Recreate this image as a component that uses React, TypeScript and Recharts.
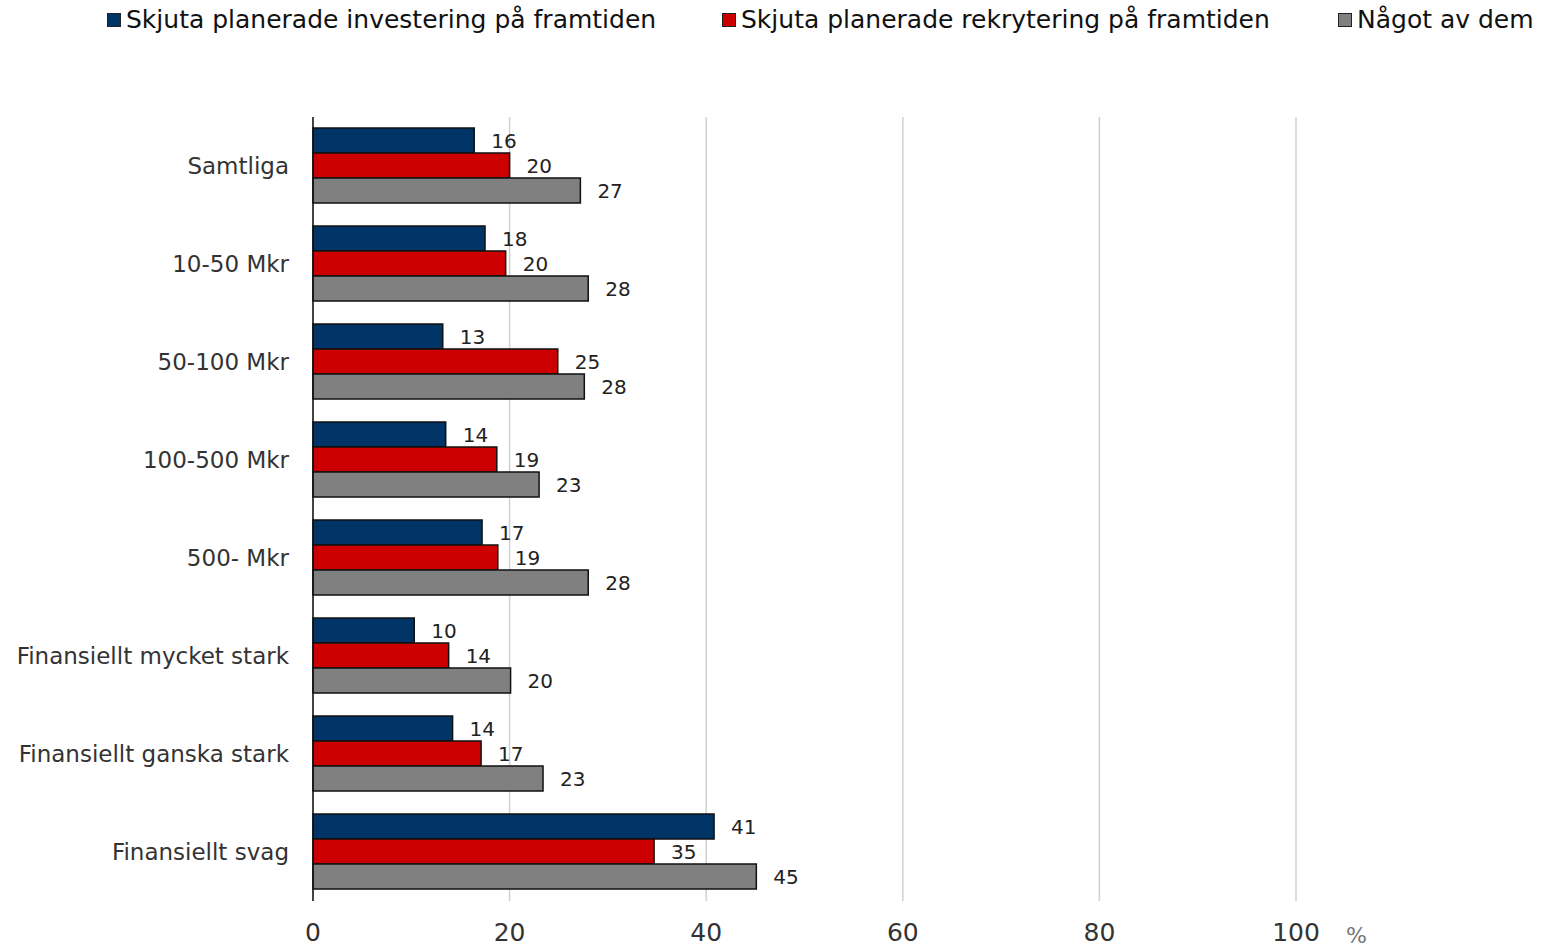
import React from 'react';
import {
  BarChart,
  Bar,
  XAxis,
  YAxis,
  CartesianGrid,
  LabelList,
  Label,
} from 'recharts';

// Categories and series (percent of companies)
const categories = [
  'Samtliga',
  '10-50 Mkr',
  '50-100 Mkr',
  '100-500 Mkr',
  '500- Mkr',
  'Finansiellt mycket stark',
  'Finansiellt ganska stark',
  'Finansiellt svag',
];
const investering = [16.4, 17.5, 13.2, 13.5, 17.2, 10.3, 14.2, 40.8];
const rekrytering = [20.0, 19.6, 24.9, 18.7, 18.8, 13.8, 17.1, 34.7];
const nagot = [27.2, 28.0, 27.6, 23.0, 28.0, 20.1, 23.4, 45.1];
const xTicks = [0, 20, 40, 60, 80, 100];

const seriesNames = [
  'Skjuta planerade investering på framtiden',
  'Skjuta planerade rekrytering på framtiden',
  'Något av dem',
];
const seriesColors = ['#003366', '#CC0000', '#808080'];

const data = categories.map((name, i) => ({
  name,
  investering: investering[i],
  rekrytering: rekrytering[i],
  nagot: nagot[i],
}));

const FONT = '"DejaVu Sans", "Noto Sans", sans-serif';

const labelProps = {
  position: 'right' as const,
  offset: 17,
  fill: '#222',
  fontSize: 20,
  fontFamily: FONT,
  formatter: (v: number) => Math.round(v),
};

// Legend drawn as plain HTML above the plot
const legendLeft = [107, 722, 1338];

function TopLegend() {
  return (
    <div style={{ position: 'absolute', left: 0, top: 0, width: 1549, height: 40 }}>
      {seriesNames.map((name, i) => (
        <div
          key={name}
          style={{
            position: 'absolute',
            left: legendLeft[i],
            top: 5,
            display: 'flex',
            alignItems: 'center',
            fontFamily: FONT,
            fontSize: 25,
            color: '#111',
            whiteSpace: 'nowrap',
          }}
        >
          <span
            style={{
              display: 'inline-block',
              width: 12,
              height: 12,
              background: seriesColors[i],
              border: '1.5px solid #222',
              marginRight: 5,
            }}
          />
          {name}
        </div>
      ))}
    </div>
  );
}

export default function App() {
  return (
    <div style={{ position: 'absolute', left: 0, top: 0, width: 1549, height: 948, background: '#fff' }}>
      <TopLegend />
      <BarChart
        width={1549}
        height={948}
        data={data}
        layout="vertical"
        margin={{ top: 117, right: 253, bottom: 0, left: 0 }}
        barCategoryGap={11}
        barGap={0}
      >
        <CartesianGrid horizontal={false} stroke="#d0d0d0" strokeWidth={1.5} />
        <XAxis
          type="number"
          domain={[0, 100]}
          ticks={xTicks}
          axisLine={false}
          tickLine={false}
          tickMargin={16}
          height={47}
          tick={{ fill: '#333', fontSize: 25, fontFamily: FONT }}
        >
          <Label
            value="%"
            position="right"
            offset={50}
            dy={11}
            fill="#777"
            fontSize={22}
            fontFamily={FONT}
          />
        </XAxis>
        <YAxis
          type="category"
          dataKey="name"
          width={313}
          axisLine={{ stroke: '#111', strokeWidth: 1.5 }}
          tickLine={false}
          tickMargin={18}
          tick={{ fill: '#333', fontSize: 23, fontFamily: FONT }}
        />
        <Bar dataKey="investering" fill={seriesColors[0]} stroke="#111" strokeWidth={1.5} isAnimationActive={false}>
          <LabelList dataKey="investering" {...labelProps} />
        </Bar>
        <Bar dataKey="rekrytering" fill={seriesColors[1]} stroke="#111" strokeWidth={1.5} isAnimationActive={false}>
          <LabelList dataKey="rekrytering" {...labelProps} />
        </Bar>
        <Bar dataKey="nagot" fill={seriesColors[2]} stroke="#111" strokeWidth={1.5} isAnimationActive={false}>
          <LabelList dataKey="nagot" {...labelProps} />
        </Bar>
      </BarChart>
    </div>
  );
}
